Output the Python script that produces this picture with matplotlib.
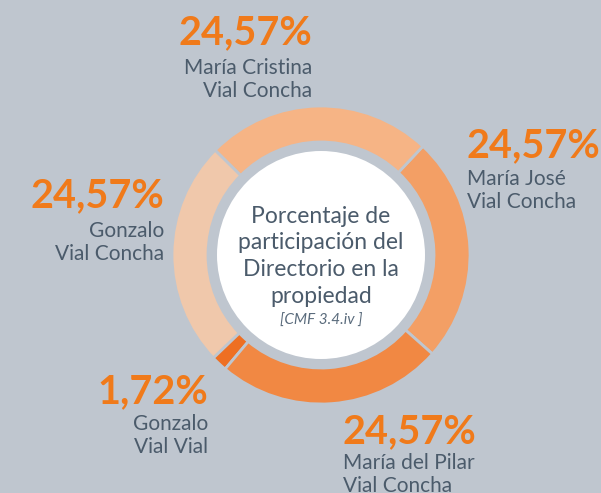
import matplotlib.pyplot as plt
from matplotlib.patches import Circle

# participación del directorio
nombres = ["María José\nVial Concha", "María Cristina\nVial Concha", "Gonzalo\nVial Concha",
           "Gonzalo\nVial Vial", "María del Pilar\nVial Concha"]
valores = [24.57, 24.57, 24.57, 1.72, 24.57]
colores = ["#F39F65", "#F6B485", "#F0C8AB", "#EE6F22", "#F18843"]

fondo = "#BFC6CF"
naranjo = "#F07A1A"
texto = "#4B5B6B"
H = 493

plt.rcParams['font.family'] = ['Lato', 'DejaVu Sans']

fig = plt.figure(figsize=(6.01, 4.93), dpi=100, facecolor=fondo)
ax = fig.add_axes([0, 0, 1, 1])
ax.set_facecolor(fondo)

cx, cy = 321, H - 255
ax.pie(valores, colors=colores, startangle=-41.6, counterclock=True,
       center=(cx, cy), radius=149,
       wedgeprops=dict(width=36, edgecolor=fondo, linewidth=2.0))
ax.add_patch(Circle((cx, cy), 104, facecolor="white", edgecolor="none", zorder=5))
ax.set_xlim(0, 601)
ax.set_ylim(0, H)
ax.axis("off")

# va="baseline" en texto multilínea usa la última línea
ax.text(cx, H - 303, "Porcentaje de\nparticipación del\nDirectorio en la\npropiedad",
        ha="center", va="baseline", fontsize=16.5, color=texto, linespacing=1.34,
        zorder=6, multialignment="center")
ax.text(cx, H - 325, "[CMF 3.4.iv ]", ha="center", va="baseline", fontsize=11,
        style="italic", color="#5A6B7C", zorder=6)

# etiquetas: (x, baseline del porcentaje, baseline de la última línea del nombre, alineación)
etiquetas = [
    (467, 157, 208, "left"),
    (312, 44, 97, "right"),
    (164, 207, 260, "right"),
    (208, 403, 453, "right"),
    (343, 443, 492, "left"),
]
for (x, yp, yn, al), nombre, v in zip(etiquetas, nombres, valores):
    ax.text(x, H - yp, f"{v:.2f}%".replace(".", ","), ha=al, va="baseline",
            fontsize=28.5, fontweight="bold", color=naranjo)
    ax.text(x, H - yn, nombre, ha=al, va="baseline", fontsize=15, color=texto,
            linespacing=1.17)

fig.savefig("out.png", dpi=100, facecolor=fondo)
